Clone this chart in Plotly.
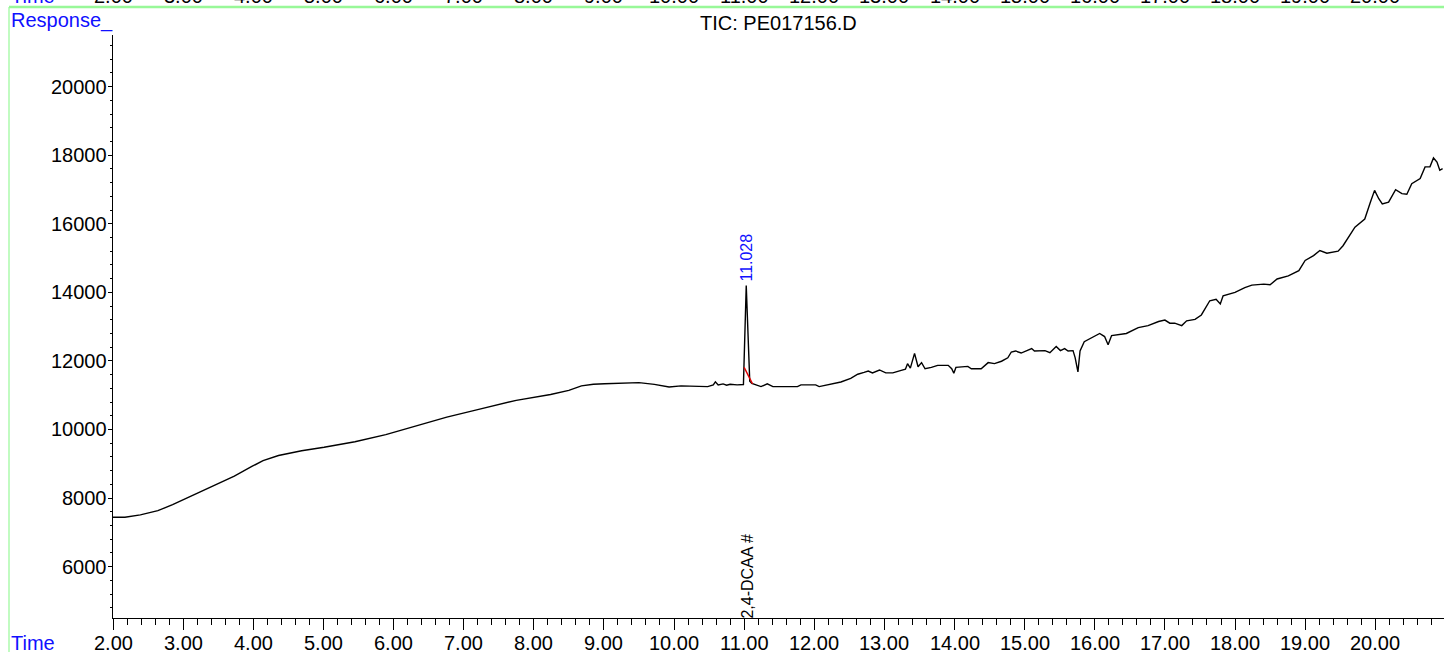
import plotly.graph_objects as go

# ---------------- data ----------------
time_min = [
    2.00, 2.17, 2.39, 2.64, 2.85, 3.05, 3.27, 3.48, 3.73, 3.98, 4.14, 4.36, 4.69, 5.01,
    5.45, 5.89, 6.33, 6.76, 7.20, 7.75, 8.24, 8.50, 8.68, 8.85, 9.01, 9.20, 9.39, 9.50,
    9.72, 9.93, 10.10, 10.32, 10.48, 10.56, 10.59, 10.63, 10.70, 10.75, 10.80, 10.90,
    10.99, 11.03, 11.08, 11.11, 11.16, 11.24, 11.33, 11.41, 11.60, 11.76, 11.81, 12.02,
    12.07, 12.19, 12.38, 12.52, 12.62, 12.71, 12.77, 12.83, 12.93, 13.02, 13.12, 13.24,
    13.30, 13.33, 13.37, 13.43, 13.48, 13.53, 13.58, 13.67, 13.76, 13.91, 13.96, 13.99,
    14.02, 14.19, 14.24, 14.38, 14.48, 14.57, 14.67, 14.76, 14.81, 14.87, 14.95, 15.10,
    15.14, 15.29, 15.36, 15.45, 15.51, 15.57, 15.62, 15.69, 15.72, 15.76, 15.79, 15.85,
    15.93, 16.07, 16.14, 16.19, 16.24, 16.45, 16.62, 16.76, 16.91, 17.00, 17.07, 17.14,
    17.24, 17.31, 17.43, 17.52, 17.64, 17.73, 17.79, 17.83, 18.00, 18.14, 18.24, 18.41,
    18.50, 18.60, 18.76, 18.91, 19.00, 19.12, 19.21, 19.31, 19.47, 19.54, 19.71, 19.85,
    19.93, 19.99, 20.05, 20.10, 20.19, 20.29, 20.38, 20.45, 20.52, 20.64, 20.71, 20.78,
    20.83, 20.88, 20.92, 20.96,
]
response = [
    7440, 7440, 7510, 7630, 7810, 8000, 8190, 8390, 8640, 8920, 9090, 9240, 9380, 9480,
    9640, 9850, 10110, 10360, 10580, 10850, 11020, 11140, 11270, 11320, 11335, 11340, 11345, 11365,
    11315, 11240, 11270, 11265, 11250, 11300, 11390, 11300, 11330, 11290, 11320, 11300,
    11310, 14200, 11410, 11340, 11300, 11250, 11330, 11250, 11250, 11250, 11300, 11300,
    11250, 11300, 11385, 11490, 11610, 11665, 11705, 11650, 11735, 11650, 11650, 11725,
    11760, 11920, 11790, 12220, 11830, 11950, 11770, 11810, 11870, 11870, 11770, 11640,
    11810, 11840, 11770, 11770, 11950, 11920, 11990, 12090, 12260, 12290, 12230, 12360,
    12290, 12300, 12240, 12420, 12300, 12360, 12290, 12300, 12095, 11680, 12290, 12560,
    12650, 12800, 12710, 12470, 12740, 12800, 12970, 13030, 13150, 13190, 13100, 13100,
    13030, 13170, 13210, 13340, 13755, 13800, 13660, 13900, 14000, 14140, 14210, 14240,
    14220, 14390, 14480, 14630, 14930, 15070, 15220, 15140, 15200, 15360, 15900, 16140,
    16630, 16975, 16730, 16580, 16630, 16995, 16880, 16860, 17170, 17320, 17660, 17660,
    17920, 17800, 17560, 17610,
]

# integration baseline of the labelled peak (red)
baseline_time = [11.00, 11.05, 11.10, 11.12]
baseline_resp = [11810, 11625, 11400, 11330]

peak_rt = 11.028
peak_label = "11.028"
compound_label = "2,4-DCAA #"
title_text = "TIC: PE017156.D"

x_ticks = [2, 3, 4, 5, 6, 7, 8, 9, 10, 11, 12, 13, 14, 15, 16, 17, 18, 19, 20]
x_tick_text = ["%.2f" % v for v in x_ticks]
y_ticks = [6000, 8000, 10000, 12000, 14000, 16000, 18000, 20000]
y_tick_text = [str(v) for v in y_ticks]

x_range = [2.0, 20.98]
y_range = [4500, 21507]

# ---------------- layout helpers (pixel -> paper) ----------------
W, H = 1444, 652
ML, MR, MT, MB = 113, 0, 35, 34
PW, PH = W - ML - MR, H - MT - MB


def px(xp):
    return (xp - ML) / PW


def py(yp):
    return (H - MB - yp) / PH


FONT = "Liberation Sans, Arial, sans-serif"
BLUE = "#1010ff"
GREEN = "#98f898"

fig = go.Figure()
fig.add_trace(go.Scatter(x=time_min, y=response, mode="lines",
                         line=dict(color="black", width=1.4), hoverinfo="skip"))
fig.add_trace(go.Scatter(x=baseline_time, y=baseline_resp, mode="lines",
                         line=dict(color="#e00000", width=1.4), hoverinfo="skip"))

peak_value = max(v for t, v in zip(time_min, response) if abs(t - peak_rt) < 0.1)

annotations = [
    dict(text=title_text, xref="paper", yref="paper", x=0.5, y=py(22.5),
         xanchor="center", yanchor="middle", showarrow=False,
         font=dict(family=FONT, size=20, color="black")),
    dict(text="Response_", xref="paper", yref="paper", x=px(9), y=py(20),
         xanchor="left", yanchor="middle", showarrow=False,
         font=dict(family=FONT, size=20, color=BLUE)),
    dict(text="Time", xref="paper", yref="paper", x=px(9), y=py(643),
         xanchor="left", yanchor="middle", showarrow=False,
         font=dict(family=FONT, size=20, color=BLUE)),
    dict(text=peak_label, xref="x", yref="y", x=peak_rt, y=peak_value,
         xanchor="center", yanchor="bottom", yshift=2, textangle=-90, showarrow=False,
         font=dict(family=FONT, size=16, color=BLUE)),
    dict(text=compound_label, xref="x", yref="paper", x=peak_rt, y=0,
         xanchor="center", yanchor="bottom", textangle=-90, showarrow=False,
         xshift=1, yshift=-3, font=dict(family=FONT, size=16, color="black")),
    # cut-off axis row of the panel above
    dict(text="Time", xref="paper", yref="paper", x=px(9), y=py(-3.5),
         xanchor="left", yanchor="middle", showarrow=False,
         font=dict(family=FONT, size=20, color=BLUE)),
]
for v, t in zip(x_ticks, x_tick_text):
    # cut-off row at the very top
    annotations.append(dict(text=t, xref="x", yref="paper", x=v, y=py(-3.5),
                            xanchor="center", yanchor="middle", showarrow=False,
                            font=dict(family=FONT, size=20, color="black")))
    # bottom time-axis tick labels
    annotations.append(dict(text=t, xref="x", yref="paper", x=v, y=py(643),
                            xanchor="center", yanchor="middle", showarrow=False,
                            font=dict(family=FONT, size=20, color="black")))
for v, t in zip(y_ticks, y_tick_text):
    annotations.append(dict(text=t, xref="paper", yref="y", x=px(109), y=v,
                            xanchor="right", yanchor="middle", showarrow=False,
                            font=dict(family=FONT, size=20, color="black")))

shapes = [
    dict(type="line", xref="paper", yref="paper", x0=px(9), x1=1.0, y0=py(7), y1=py(7),
         line=dict(color=GREEN, width=2.5)),
    dict(type="line", xref="paper", yref="paper", x0=px(9), x1=px(9), y0=py(7), y1=py(H + 2),
         line=dict(color=GREEN, width=1.2)),
]

fig.update_layout(
    width=W, height=H,
    margin=dict(l=ML, r=MR, t=MT, b=MB, pad=0, autoexpand=False),
    paper_bgcolor="white", plot_bgcolor="white",
    showlegend=False,
    font=dict(family=FONT, size=20, color="black"),
    annotations=annotations,
    shapes=shapes,
    xaxis=dict(range=x_range, showgrid=False, zeroline=False, showline=True,
               automargin=False, showticklabels=False,
               linecolor="black", linewidth=1.2, ticks="outside", ticklen=11,
               tickcolor="black", tickwidth=1.2, tickvals=x_ticks,
               minor=dict(ticks="outside", ticklen=6, dtick=0.2, tick0=2,
                          tickcolor="black", tickwidth=1)),
    yaxis=dict(range=y_range, showgrid=False, zeroline=False, showline=True,
               automargin=False, showticklabels=False,
               linecolor="black", linewidth=1.2, ticks="outside", ticklen=4,
               tickcolor="black", tickwidth=1, tickvals=y_ticks,
               minor=dict(ticks="outside", ticklen=2, dtick=400, tick0=0,
                          tickcolor="black", tickwidth=1)),
)

fig.write_html("out.html", config={"displayModeBar": False},
               post_script="document.body.style.margin='0';document.body.style.overflow='hidden';")
